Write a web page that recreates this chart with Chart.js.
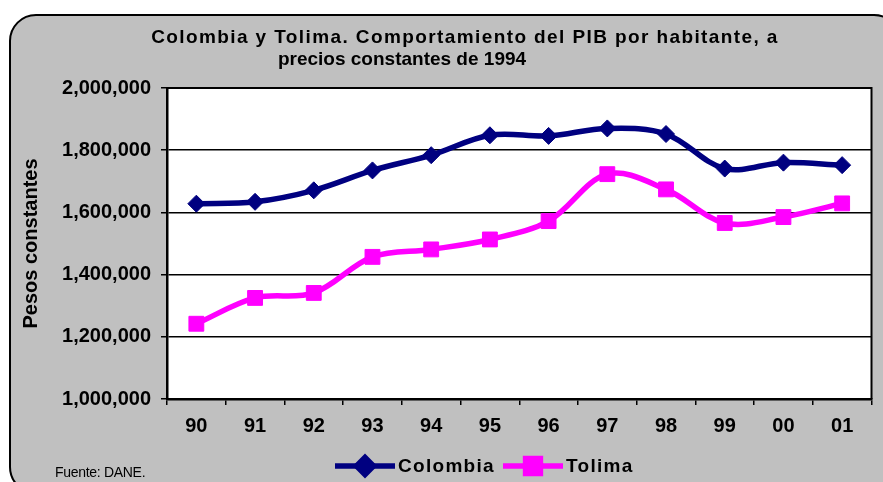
<!DOCTYPE html>
<html>
<head>
<meta charset="utf-8">
<script src="https://cdn.jsdelivr.net/npm/chart.js@4.4.1/dist/chart.umd.min.js"></script>
<style>
  html, body { margin: 0; background: #fff; }
  #wrap { width: 883px; height: 482px; }
</style>
</head>
<body>
<div id="wrap"><canvas id="chartPib"></canvas></div>
<script>
// años (eje X)
const years = ['90', '91', '92', '93', '94', '95', '96', '97', '98', '99', '00', '01'];
// PIB por habitante, pesos constantes de 1994
const colombia = [1628000, 1634000, 1671000, 1735000, 1784000, 1848000, 1846000, 1870000, 1852000, 1741000, 1760000, 1752000];
const tolima   = [1242000, 1325000, 1341000, 1457000, 1481000, 1513000, 1572000, 1723000, 1674000, 1566000, 1585000, 1629000];
const yMin = 1000000, yMax = 2000000, yStep = 200000;

const titleLines = ['Colombia y Tolima. Comportamiento del PIB por habitante, a', 'precios constantes de 1994'];
const yTitle = 'Pesos constantes';
const sourceNote = 'Fuente: DANE.';

const FONT = "'Liberation Sans', Arial, sans-serif";

// fondo gris redondeado, área blanca, títulos y leyenda
const excelFrame = {
  id: 'excelFrame',
  beforeDraw(chart) {
    const { ctx, chartArea: a } = chart;
    ctx.save();
    ctx.fillStyle = '#fff';
    ctx.fillRect(0, 0, chart.width, chart.height);
    ctx.beginPath();
    ctx.roundRect(10, 15, 890, 478, 26);
    ctx.fillStyle = '#c0c0c0';
    ctx.fill();
    ctx.lineWidth = 2;
    ctx.strokeStyle = '#000';
    ctx.stroke();
    ctx.fillStyle = '#fff';
    ctx.fillRect(a.left, a.top, a.right - a.left, a.bottom - a.top);
    ctx.restore();
  },
  afterDraw(chart) {
    const { ctx, chartArea: a } = chart;
    ctx.save();
    // borde derecho del área de trazado
    ctx.strokeStyle = '#000';
    ctx.lineWidth = 2;
    ctx.beginPath();
    ctx.moveTo(a.left, a.top);
    ctx.lineTo(a.right, a.top);
    ctx.lineTo(a.right, a.bottom);
    ctx.stroke();

    // título
    ctx.fillStyle = '#000';
    ctx.textAlign = 'center';
    ctx.textBaseline = 'alphabetic';
    ctx.font = 'bold 19px ' + FONT;
    ctx.letterSpacing = '1.4px';
    ctx.fillText(titleLines[0], 465, 43);
    ctx.letterSpacing = '0px';
    ctx.fillText(titleLines[1], 402, 65);

    // leyenda
    const items = chart.data.datasets;
    const starts = [335, 503];
    items.forEach((ds, i) => {
      const x0 = starts[i], y = 466;
      ctx.strokeStyle = ds.borderColor;
      ctx.lineWidth = ds.borderWidth;
      ctx.beginPath();
      ctx.moveTo(x0, y);
      ctx.lineTo(x0 + 60, y);
      ctx.stroke();
      ctx.fillStyle = ds.pointBackgroundColor;
      ctx.strokeStyle = ds.pointBorderColor;
      Chart.helpers.drawPoint(ctx, { pointStyle: ds.pointStyle, radius: ds.pointRadius, rotation: 0, borderWidth: ds.pointBorderWidth }, x0 + 30, y);
      ctx.fillStyle = '#000';
      ctx.textAlign = 'left';
      ctx.textBaseline = 'middle';
      ctx.font = 'bold 19px ' + FONT;
      ctx.letterSpacing = '1.3px';
      ctx.fillText(ds.label, x0 + 63, y + 1);
      ctx.letterSpacing = '0px';
    });

    // fuente
    ctx.textAlign = 'left';
    ctx.textBaseline = 'alphabetic';
    ctx.font = '14px ' + FONT;
    ctx.letterSpacing = '-0.3px';
    ctx.fillText(sourceNote, 55, 477);
    ctx.restore();
  }
};

new Chart(document.getElementById('chartPib'), {
  type: 'line',
  data: {
    labels: years,
    datasets: [
      {
        label: 'Colombia',
        data: colombia,
        borderColor: '#000080',
        borderWidth: 5.5,
        pointStyle: 'rectRot',
        pointRadius: 8.5,
        pointBackgroundColor: '#000080',
        pointBorderColor: '#000080',
        pointBorderWidth: 1,
        tension: 0.35
      },
      {
        label: 'Tolima',
        data: tolima,
        borderColor: '#ff00ff',
        borderWidth: 5.5,
        pointStyle: 'rect',
        pointRadius: 10.5,
        pointBackgroundColor: '#ff00ff',
        pointBorderColor: '#ff00ff',
        pointBorderWidth: 1,
        tension: 0.35
      }
    ]
  },
  options: {
    responsive: true, maintainAspectRatio: false,
    animation: false,
    devicePixelRatio: 1,
    layout: { padding: { left: 0, top: 88, right: 3, bottom: 0 } },
    plugins: { legend: { display: false }, title: { display: false }, tooltip: { enabled: false } },
    scales: {
      x: {
        offset: true,
        grid: { offset: true, drawOnChartArea: false, color: '#000', lineWidth: 1.5, tickLength: 6 },
        border: { color: '#000', width: 2.5 },
        ticks: { color: '#000', padding: 9, font: { family: FONT, size: 20, weight: 'bold' } },
        afterFit: s => { s.height = 83; }
      },
      y: {
        min: yMin, max: yMax,
        grid: { color: '#000', lineWidth: 1.5, tickLength: 6 },
        border: { color: '#000', width: 2.5 },
        ticks: {
          stepSize: yStep, color: '#000', padding: 10,
          font: { family: FONT, size: 20, weight: 'bold' },
          callback: v => v.toLocaleString('en-US')
        },
        title: {
          display: true, text: yTitle, color: '#000',
          padding: { top: 19, bottom: 0 },
          font: { family: FONT, size: 20, weight: 'bold' }
        },
        afterFit: s => { s.width = 167; }
      }
    }
  },
  plugins: [excelFrame]
});
</script>
</body>
</html>
